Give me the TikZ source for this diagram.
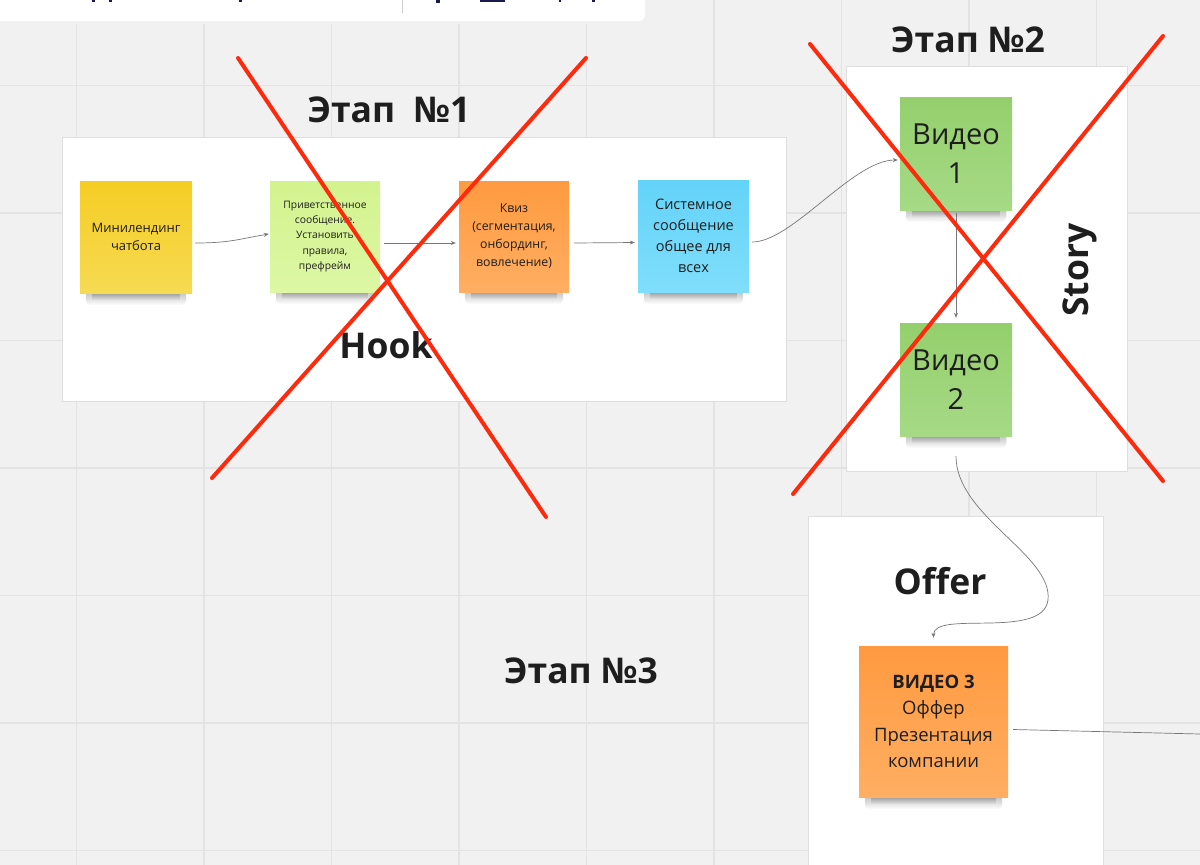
\documentclass[tikz,border=0pt]{standalone}
\usepackage{fontspec}
\setmainfont{Open Sans}
\usetikzlibrary{fadings,arrows.meta,calc}
\definecolor{bg}{HTML}{F1F1F1}
\definecolor{gridc}{HTML}{E3E3E3}
\definecolor{framec}{HTML}{DEDEDE}
\definecolor{ink}{HTML}{1E1E1E}
\definecolor{conn}{HTML}{777777}
\definecolor{xred}{HTML}{FF2A0C}
\definecolor{yelT}{HTML}{F5CD24}\definecolor{yelB}{HTML}{F6DA52}
\definecolor{lgT}{HTML}{D3F38E}\definecolor{lgB}{HTML}{DDF7A4}
\definecolor{orT}{HTML}{FF9A40}\definecolor{orB}{HTML}{FFAE62}
\definecolor{cyT}{HTML}{63D3F8}\definecolor{cyB}{HTML}{7FDEFB}
\definecolor{grT}{HTML}{94CF6C}\definecolor{grB}{HTML}{A6DA86}
\definecolor{navy}{HTML}{1A1A4E}
\pgfdeclarelayer{back}
\pgfdeclarelayer{shade}
\pgfsetlayers{back,shade,main}
\tikzset{
  sticky/.style={rectangle, inner sep=2pt, align=center, text=ink},
  frame/.style={fill=white, draw=framec, line width=1pt},
  title/.style={font=\fontsize{35.5}{42}\selectfont\bfseries, text=ink, inner sep=0pt},
  conn/.style={draw=conn, line width=0.7pt, -{Stealth[length=5pt,width=4pt]}},
  plainconn/.style={draw=conn, line width=0.7pt},
  cross/.style={draw=xred, line width=4pt, line cap=round},
  gridline/.style={draw=gridc, line width=1.2pt}
}
\newcommand\stickshadow[1]{%
  \begin{pgfonlayer}{shade}
  \fill[black, opacity=0.30, path fading=south, rounded corners=5pt] ($(#1.south west)+(6,-4)$) rectangle ($(#1.south east)+(-6,12)$);
  \fill[black, opacity=0.25, path fading=south] ($(#1.south west)+(12,-2)$) rectangle ($(#1.south east)+(-12,7)$);
  \end{pgfonlayer}}
\begin{document}
\begin{tikzpicture}[x=1pt,y=-1pt]
\useasboundingbox (0,0) rectangle (1200,865);
\begin{pgfonlayer}{back}
\fill[bg] (0,0) rectangle (1200,865);
\foreach \gx in {76.5,204,331.5,459,586.5,714,841.5,969,1096.5}
  \draw[gridline] (\gx,0) -- (\gx,865);
\foreach \gy in {85.5,213,340.5,468,595.5,723,850.5}
  \draw[gridline] (0,\gy) -- (1200,\gy);
% toolbar remnant
\fill[black!6] (-10,-10) rectangle (647,24);
\fill[white, rounded corners=6] (-10,-10) rectangle (645,21);
\draw[black!20, line width=0.8pt] (402,0) -- (402,13);
\fill[navy] (480,0) rectangle (505,1.5);
\fill[navy] (92,0) rectangle (95,1.5);
\fill[navy] (109,0) rectangle (112,1.5);
\fill[navy] (239,0) rectangle (242,1.5);
\fill[navy] (436,0) rectangle (440,2.5);
\fill[navy] (559,0) rectangle (561,1.5);
\fill[navy] (592,0) rectangle (595,1.5);
% frames
\node[frame, minimum width=724, minimum height=264, inner sep=0pt] (f1) at (424,269) {};
\node[frame, minimum width=281, minimum height=405, inner sep=0pt] (f2) at (986.5,268.5) {};
\path[frame] (808,516) rectangle (1103,880);
\end{pgfonlayer}

% titles
\node[title] (t1) at (389,110) {Этап\ \ №1};
\node[title] (t2) at (968,40) {Этап №2};
\node[title] (t3) at (581,671) {Этап №3};
\node[title] (hook) at (386,345) {Hook};
\node[title, rotate=90] (story) at (1080,270) {Story};
\node[title] (offer) at (940,581) {Offer};

% stickies
\node[sticky, minimum width=112, minimum height=112, top color=yelT, bottom color=yelB,
  font=\fontsize{13}{18}\selectfont] (s1) at (136,237) {Минилендинг\\чатбота};
\node[sticky, minimum width=110, minimum height=111, top color=lgT, bottom color=lgB,
  font=\fontsize{10.3}{15.3}\selectfont] (s2) at (325,236.5) {Приветственное\\сообщение.\\Установить\\правила,\\префрейм};
\node[sticky, minimum width=110, minimum height=111, top color=orT, bottom color=orB,
  font=\fontsize{12.3}{18}\selectfont] (s3) at (514,236.5) {Квиз\\(сегментация,\\онбординг,\\вовлечение)};
\node[sticky, minimum width=111, minimum height=112, top color=cyT, bottom color=cyB,
  font=\fontsize{14.5}{21}\selectfont] (s4) at (693.5,236) {Системное\\сообщение\\общее для\\всех};
\node[sticky, minimum width=112, minimum height=113, top color=grT, bottom color=grB,
  font=\fontsize{29}{39}\selectfont] (v1) at (956,153.5) {Видео\\1};
\node[sticky, minimum width=112, minimum height=113, top color=grT, bottom color=grB,
  font=\fontsize{29}{39}\selectfont] (v2) at (956,379.5) {Видео\\2};
\node[sticky, minimum width=149, minimum height=151, top color=orT, bottom color=orB,
  font=\fontsize{18.5}{26.5}\selectfont] (v3) at (933.5,721.5) {\textbf{ВИДЕО 3}\\Оффер\\Презентация\\компании};
\foreach \s in {s1,s2,s3,s4,v1,v2,v3} {\stickshadow{\s}}

% connectors
\coordinate (rightend) at (1200,734);
\draw[conn] ([xshift=3pt,yshift=-6pt]s1.east) .. controls +(35,0) and +(-30,5) .. ([xshift=-1pt,yshift=2.5pt]s2.west);
\draw[conn] ([xshift=4pt,yshift=-6.5pt]s2.east) -- ([xshift=-3pt,yshift=-6.5pt]s3.west);
\draw[conn] ([xshift=5pt,yshift=-6.5pt]s3.east) -- ([xshift=-3pt,yshift=-6.5pt]s4.west);
\draw[conn] ([xshift=3pt,yshift=-6pt]s4.east) .. controls +(40,0) and +(-45,0) .. ([xshift=-2pt,yshift=-6.5pt]v1.west);
\draw[conn] ([yshift=-3pt]v1.south) -- ([yshift=5pt]v2.north);
\draw[conn] ([yshift=-20pt]v2.south) .. controls +(0,60) and +(5,-45) .. (1048,600)
   .. controls +(-5,40) and +(0,-28) .. ([yshift=8pt]v3.north);
\draw[plainconn] ([xshift=5pt,yshift=-8pt]v3.east) -- (rightend);

% red crosses
\draw[cross] (238,58) -- (546,517);
\draw[cross] (586,58) -- (212,478);
\draw[cross] (810,44) -- (1163,481);
\draw[cross] (1163,36) -- (793,494);
\end{tikzpicture}
\end{document}
